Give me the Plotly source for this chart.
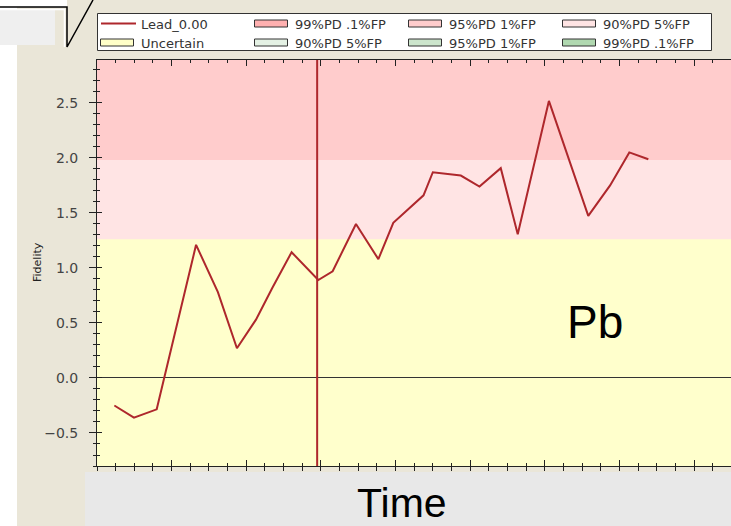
import plotly.graph_objects as go

# ---- data -------------------------------------------------------------
time = [0.93, 1.98, 3.20, 5.31, 6.48, 7.50, 8.52, 9.40, 10.43, 11.86, 12.63,
        13.88, 15.08, 15.88, 17.50, 18.00, 19.50, 20.50, 21.64, 22.55, 24.22,
        26.33, 27.50, 28.53, 29.55]
fidelity = [-0.25, -0.36, -0.285, 1.21, 0.78, 0.27, 0.53, 0.82, 1.143, 0.89,
            0.97, 1.40, 1.08, 1.41, 1.66, 1.87, 1.84, 1.74, 1.907, 1.306,
            2.518, 1.473, 1.75, 2.05, 1.988]
event_time = 11.8

series_name = "Lead_0.00"
uncertain_top = 1.26   # upper edge of the "Uncertain" zone
pd90_top = 1.98        # upper edge of the 90%PD 5%FP zone
pd95_top = 3.50        # upper edge of the 95%PD 1%FP zone

legend_names = ["99%PD .1%FP", "95%PD 1%FP", "90%PD 5%FP", "Uncertain",
                "90%PD 5%FP", "95%PD 1%FP", "99%PD .1%FP"]
legend_fills = ["#FFB0B0", "#FFCCCC", "#FFE4E4", "#FFFFC8",
                "#E4F1E4", "#CCE5CC", "#B0D8B0"]

x_range = [0, 33.98]
y_range = [-0.8, 2.89]

# ---- styling ----------------------------------------------------------
W, H = 731, 526
L, R, T, B = 97, 0, 60, 60
BEIGE = "#EAE6D8"
LINE_RED = "#AE272C"
AXIS = "#222222"

# legend grid (pixels): 4 columns x 2 rows
LEG_X0, LEG_COL_W, LEG_ROW1, LEG_ROW_H = 100, 154, 23.5, 19
KEY_W, KEY_H = 34, 7


def px(xp):
    return (xp - L) / (W - L - R)


def py(yp):
    return (H - B - yp) / (H - T - B)


fig = go.Figure()

# main series
fig.add_trace(go.Scatter(x=time, y=fidelity, mode="lines", name=series_name,
                         line=dict(color=LINE_RED, width=2), legendrank=1))

# legend entries for the shaded zones (their keys are drawn as boxes below)
for i, name in enumerate(legend_names):
    fig.add_trace(go.Scatter(x=[None], y=[None], mode="lines", name=name,
                             legendrank=i + 2,
                             line=dict(color="rgba(0,0,0,0)", width=0)))

# companion trace for the inner tick axes
fig.add_trace(go.Scatter(x=[None], y=[None], xaxis="x2", yaxis="y2",
                         showlegend=False, hoverinfo="skip"))

shapes = []
# shaded zones
zones = [(y_range[0], uncertain_top, "#FFFFCC"),
         (uncertain_top, pd90_top, "#FFE4E4"),
         (pd90_top, pd95_top, "#FFCCCC")]
for y0, y1, col in zones:
    shapes.append(dict(type="rect", xref="x", yref="y", x0=x_range[0],
                       x1=x_range[1], y0=y0, y1=y1, fillcolor=col,
                       line=dict(width=0), layer="below"))

# event marker
shapes.append(dict(type="line", xref="x", yref="y", x0=event_time,
                   x1=event_time, y0=y_range[0], y1=y_range[1],
                   line=dict(color=LINE_RED, width=2), layer="above"))

# slide decoration around the chart
deco = [
    dict(type="rect", x0=px(0), x1=px(17), y0=py(0), y1=py(H),
         fillcolor="white"),
    dict(type="rect", x0=px(0), x1=px(67), y0=py(0), y1=py(7),
         fillcolor="white"),
    dict(type="rect", x0=px(0), x1=px(55), y0=py(10), y1=py(45),
         fillcolor="#EFEFEF"),
    dict(type="rect", x0=px(85), x1=px(W), y0=py(472), y1=py(H),
         fillcolor="#E8E8E8"),
]
for d in deco:
    d.update(xref="paper", yref="paper", line=dict(width=0), layer="below")
    shapes.append(d)
# legend frame
shapes.append(dict(type="rect", xref="paper", yref="paper",
                   x0=px(97.5), x1=px(711.5), y0=py(13.5), y1=py(50.5),
                   fillcolor="white", line=dict(color="#333333", width=1),
                   layer="below"))
# outlined legend keys for the zones
for i, col in enumerate(legend_fills):
    slot = i + 1
    c, r = slot % 4, slot // 4
    kx = LEG_X0 + c * LEG_COL_W
    ky = LEG_ROW1 + r * LEG_ROW_H
    shapes.append(dict(type="rect", xref="paper", yref="paper",
                       x0=px(kx + 0.5), x1=px(kx + KEY_W - 0.5),
                       y0=py(ky - KEY_H / 2), y1=py(ky + KEY_H / 2),
                       fillcolor=col, line=dict(color="#333333", width=1),
                       layer="above"))
shapes.append(dict(type="path", xref="paper", yref="paper",
                   path=f"M{px(0)},{py(9.5)} L{px(64.5)},{py(9.5)} "
                        f"L{px(64.5)},{py(47)}",
                   line=dict(color="white", width=1.5)))
shapes.append(dict(type="path", xref="paper", yref="paper",
                   path=f"M{px(0)},{py(7)} L{px(67)},{py(7)} L{px(67)},{py(47)} "
                        f"L{px(93)},{py(0)}",
                   line=dict(color="black", width=1.5)))

annotations = [
    dict(text="Pb", x=px(595), y=py(322), xref="paper", yref="paper",
         xanchor="center", yanchor="middle", showarrow=False,
         font=dict(family="Liberation Sans", size=46, color="black")),
    dict(text="Time", x=px(402), y=py(503), xref="paper", yref="paper",
         xanchor="center", yanchor="middle", showarrow=False,
         font=dict(family="Liberation Sans", size=41, color="black")),
    dict(text="Fidelity", x=px(37), y=py(262), xref="paper", yref="paper",
         xanchor="center", yanchor="middle", textangle=-90, showarrow=False,
         font=dict(family="DejaVu Sans", size=11, color="#222222")),
]

fig.update_layout(
    width=W, height=H,
    margin=dict(l=L, r=R, t=T, b=B, autoexpand=False),
    paper_bgcolor=BEIGE,
    plot_bgcolor="#FFFFCC",
    showlegend=True,
    legend=dict(orientation="h", x=px(96), xanchor="left", y=py(8.5),
                yanchor="top", entrywidth=104, entrywidthmode="pixels",
                bgcolor="rgba(0,0,0,0)", borderwidth=0,
                font=dict(family="DejaVu Sans", size=13, color="#333333"),
                tracegroupgap=0, itemwidth=35),
    xaxis=dict(range=x_range, showline=True, linecolor=AXIS, linewidth=1,
               mirror=True, ticks="outside", ticklen=4, tickcolor=AXIS,
               tick0=0, dtick=4, showticklabels=False, showgrid=False,
               zeroline=False, fixedrange=True,
               minor=dict(dtick=1, ticks="outside", ticklen=4,
                          tickcolor=AXIS, showgrid=False)),
    xaxis2=dict(range=x_range, overlaying="x", anchor="y2", side="bottom",
                ticks="inside", ticklen=6, tickcolor=AXIS, tick0=0, dtick=4,
                mirror="ticks", showline=False, showticklabels=False,
                showgrid=False, zeroline=False, fixedrange=True,
                minor=dict(dtick=1, ticks="inside", ticklen=3,
                           tickcolor=AXIS, showgrid=False)),
    yaxis=dict(range=y_range, showline=True, linecolor=AXIS, linewidth=1,
               ticks="outside", ticklen=7, tickcolor=AXIS, tick0=0,
               dtick=0.5, tickformat=".1f", showgrid=False, zeroline=True,
               zerolinecolor="#333333", zerolinewidth=1, fixedrange=True,
               ticklabelstandoff=8,
               tickfont=dict(family="DejaVu Sans", size=14, color="#444444"),
               minor=dict(dtick=0.1, ticks="outside", ticklen=3,
                          tickcolor=AXIS, showgrid=False)),
    yaxis2=dict(range=y_range, overlaying="y", anchor="x2", side="left",
                ticks="inside", ticklen=5, tickcolor=AXIS, tick0=0,
                dtick=0.5, showline=False, showticklabels=False,
                showgrid=False, zeroline=False, fixedrange=True,
                minor=dict(dtick=0.1, ticks="inside", ticklen=3,
                           tickcolor=AXIS, showgrid=False)),
    shapes=shapes,
    annotations=annotations,
)

fig.write_html("out.html")
